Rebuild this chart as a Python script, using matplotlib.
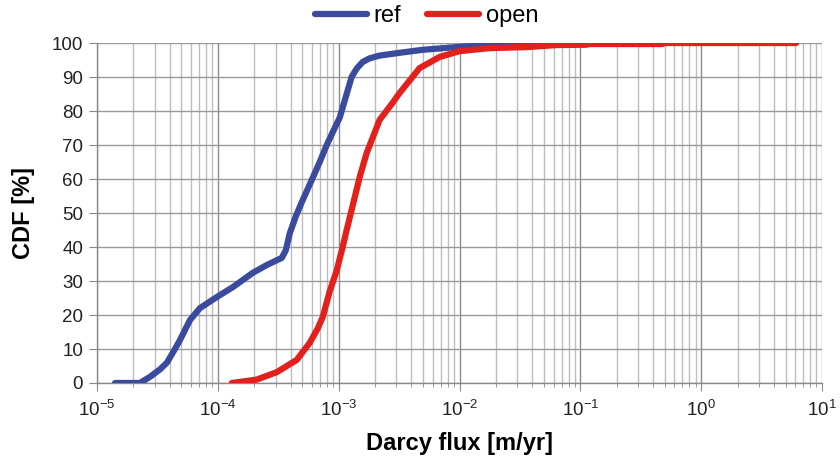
import numpy as np
import matplotlib
matplotlib.use("Agg")
import matplotlib.pyplot as plt
from matplotlib.ticker import LogLocator, MultipleLocator

plt.rcParams['font.family'] = ['Liberation Sans', 'DejaVu Sans']
plt.rcParams['mathtext.default'] = 'regular'

# log10 of Darcy flux [m/yr] and CDF [%]
ref_logx = [-4.851, -4.645, -4.562, -4.479, -4.421, -4.355, -4.314, -4.231, -4.149, -4.008,
            -3.876, -3.711, -3.595, -3.471, -3.438, -3.405, -3.355, -3.298, -3.223, -3.157,
            -3.099, -3.033, -2.992, -2.934, -2.893, -2.851, -2.802, -2.744, -2.661, -2.521,
            -2.306, -2.025, -1.752, -1.256, -1.240, -0.496]
ref_cdf = [0, 0, 1.8, 4, 6, 10, 12.6, 18.5, 22, 25.3,
           28.2, 32.4, 34.7, 36.8, 39, 44, 49, 53.8, 59.7, 65,
           70, 75, 78, 85, 90, 92.5, 94.4, 95.5, 96.3, 97,
           98, 98.8, 99.5, 99.7, 100, 100]

open_logx = [-3.884, -3.678, -3.512, -3.347, -3.240, -3.174, -3.132, -3.074, -3.017, -2.967,
             -2.934, -2.893, -2.826, -2.769, -2.661, -2.554, -2.496, -2.331, -2.165, -2.000,
             -1.752, -1.446, -1.198, -0.950, -0.926, -0.322, -0.306, 0.785]
open_cdf = [0, 1, 3.2, 6.8, 11.8, 16, 19.4, 27, 33, 40,
            45, 50.9, 60.6, 67.6, 77.4, 82.4, 85.3, 92.6, 95.9, 97.6,
            98.5, 98.8, 99.4, 99.5, 99.7, 99.7, 100, 100]

ref_x = 10 ** np.array(ref_logx)
open_x = 10 ** np.array(open_logx)

fig = plt.figure(figsize=(8.4, 4.61), dpi=100)
ax = fig.add_axes([0.1155, 0.1692, 0.9786 - 0.1155, 0.9067 - 0.1692])

ax.plot(ref_x, ref_cdf, color='#3a4a9c', lw=4.5, solid_capstyle='round', solid_joinstyle='round', label='ref', zorder=3)
ax.plot(open_x, open_cdf, color='#e3201b', lw=4.5, solid_capstyle='round', solid_joinstyle='round', label='open', zorder=4)

ax.set_xscale('log')
ax.set_xlim(1e-5, 10)
ax.set_ylim(0, 100)
ax.xaxis.set_major_locator(LogLocator(base=10, numticks=20))
ax.xaxis.set_minor_locator(LogLocator(base=10, subs=np.arange(2, 10), numticks=100))
ax.yaxis.set_major_locator(MultipleLocator(10))

ax.grid(which='major', axis='x', color='#8a8a8a', lw=1.0)
ax.grid(which='minor', axis='x', color='#bdbdbd', lw=1.0)
ax.grid(which='major', axis='y', color='#9a9a9a', lw=1.0)
ax.set_axisbelow(True)

for s in ['top', 'right']:
    ax.spines[s].set_visible(False)
for s in ['left', 'bottom']:
    ax.spines[s].set_color('#8a8a8a')
    ax.spines[s].set_linewidth(1.0)

ax.tick_params(axis='both', which='major', labelsize=13.5, color='#8a8a8a', length=6, labelcolor='#222222')
ax.tick_params(axis='x', which='minor', color='#8a8a8a', length=3)
ax.tick_params(axis='x', which='major', pad=6)
ax.tick_params(axis='y', which='major', pad=4)

ax.set_xlabel('Darcy flux [m/yr]', fontsize=17, fontweight='bold', labelpad=9)
ax.set_ylabel('CDF [%]', fontsize=17, fontweight='bold', labelpad=12)

leg = fig.legend(handles=ax.get_lines(), loc='center', bbox_to_anchor=(0.508, 0.965), ncol=2, frameon=False,
                 fontsize=17, handlelength=2.2, columnspacing=1.1, handletextpad=0.3, borderaxespad=0)

fig.savefig('out.png', dpi=100)
